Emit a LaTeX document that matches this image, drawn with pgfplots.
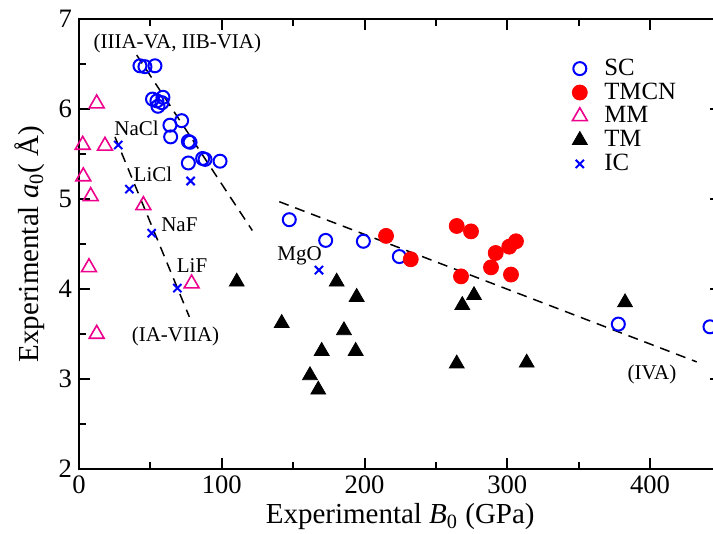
\documentclass[border=0pt]{standalone}
\usepackage{fontspec}
\setmainfont{Liberation Serif}
\usepackage{pgfplots}
\pgfplotsset{compat=1.18}

\begin{document}
\begin{tikzpicture}
\begin{axis}[
  name=ax,
  scale only axis,
  width=321.2pt, height=225pt,
  xmin=0, xmax=450, ymin=2, ymax=7,
  xtick={0,100,...,400}, minor xtick={50,150,...,450},
  ytick={2,...,7}, minor ytick={2.5,3.5,...,6.5},
  tick align=inside,
  major tick length=5.5pt, minor tick length=3.5pt,
  every tick/.style={black, line width=1pt},
  axis line style={line width=1pt},
  tick label style={font=\fontsize{13.3}{15}\selectfont},
  /pgf/number format/assume math mode=true,
  label style={font=\fontsize{14.5}{17}\selectfont},
  xlabel={Experimental \textit{B}\textsubscript{0} (GPa)},
  xlabel style={yshift=2pt},
  ylabel={Experimental \textit{a}\textsubscript{0}( Å)},
  legend style={draw=none, fill=none, at={(rel axis cs:0.758,0.93)}, anchor=north west,
    font=\fontsize{12.4}{13}\selectfont, row sep=-1.75pt, column sep=6.5pt},
  legend cell align=left,
]
% SC
\addplot[only marks, mark=o, blue, mark size=3.25pt, line width=1pt] coordinates {
  (42.7,6.48) (46.2,6.47) (53.2,6.48)
  (51.5,6.11) (54.6,6.09) (58.1,6.07) (58.8,6.13) (55.3,6.03)
  (63.7,5.82) (71.9,5.87) (64.2,5.69) (76.6,5.64) (77.8,5.63)
  (76.6,5.40) (86.6,5.45) (88.3,5.44) (98.8,5.42)
  (147.3,4.77) (172.8,4.54) (199.2,4.53) (224.4,4.36)
  (377.8,3.61) (442.0,3.58)
};
\addlegendentry{SC}
% TMCN
\addplot[only marks, mark=*, red, mark size=3.75pt] coordinates {
  (215.1,4.59) (232.4,4.33) (264.6,4.70) (274.6,4.64) (291.9,4.40)
  (288.6,4.24) (301.4,4.47) (306.1,4.53) (302.6,4.16) (267.6,4.14)
};
\addlegendentry{TMCN}
% MM
\addplot[only marks, mark=triangle, magenta, mark size=4.3pt, line width=0.8pt] coordinates {
  (12.4,6.06) (2.6,5.60) (18.2,5.59) (3.0,5.25) (8.2,5.03)
  (45.1,4.93) (7.0,4.24) (78.9,4.06) (12.4,3.50)
};
\addlegendentry{MM}
% TM
\addplot[only marks, mark=triangle*, black, mark size=4.3pt] coordinates {
  (110.5,4.08) (142.0,3.62) (180.5,4.08) (194.5,3.91) (185.6,3.54)
  (170.0,3.31) (193.8,3.31) (161.8,3.04) (167.6,2.88)
  (268.5,3.82) (276.7,3.93) (264.6,3.17) (313.6,3.18) (382.5,3.85)
};
\addlegendentry{TM}
% IC
\addplot[only marks, mark=x, blue, mark size=2.9pt, line width=1pt] coordinates {
  (27.5,5.60) (35.3,5.11) (78.2,5.20) (50.9,4.62) (68.9,4.01) (168.1,4.21)
};
\addlegendentry{IC}
% trend lines
\addplot[forget plot, black, line width=0.75pt, dash pattern=on 5pt off 3.5pt] coordinates {(40.4,6.60) (121.4,4.65)};
\addplot[forget plot, black, line width=0.75pt, dash pattern=on 5pt off 3.5pt] coordinates {(25.2,5.69) (77.3,3.69)};
\addplot[forget plot, black, line width=0.75pt, dash pattern=on 5pt off 3.5pt] coordinates {(140.3,4.97) (432.7,3.19)};
% annotations
\begin{scope}[every node/.style={font=\fontsize{10.5}{12}\selectfont, inner sep=0pt}]
\node at (axis cs:68.9,6.73) {(IIIA-VA, IIB-VIA)};
\node at (axis cs:40.3,5.79) {NaCl};
\node at (axis cs:51.8,5.27) {LiCl};
\node at (axis cs:70.3,4.71) {NaF};
\node at (axis cs:79.2,4.26) {LiF};
\node at (axis cs:67.6,3.47) {(IA-VIIA)};
\node at (axis cs:154.5,4.37) {MgO};
\node at (axis cs:401.4,3.05) {(IVA)};
\end{scope}
\end{axis}
\pgfresetboundingbox
\useasboundingbox ([shift={(-39.5pt,-32.5pt)}]ax.south west) rectangle ([shift={(-4.2pt,9.5pt)}]ax.north east);
\end{tikzpicture}
\end{document}
